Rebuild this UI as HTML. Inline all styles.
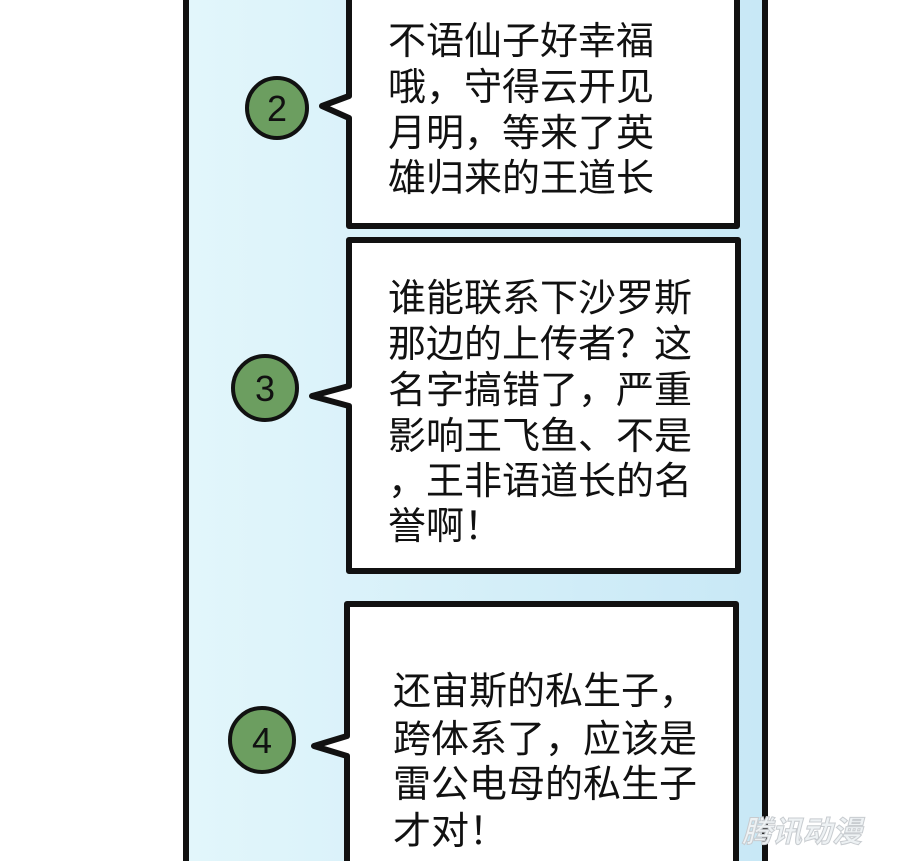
<!DOCTYPE html>
<html><head><meta charset="utf-8"><style>
html,body{margin:0;padding:0;background:#fff;}
svg text{font-family:"Liberation Sans","Noto Sans CJK SC",sans-serif;}
</style></head><body>
<svg width="900" height="861" viewBox="0 0 900 861" xmlns="http://www.w3.org/2000/svg">
<defs>
<linearGradient id="bg" x1="0" y1="0" x2="1" y2="0">
<stop offset="0" stop-color="#e2f6fb"/><stop offset="1" stop-color="#c8e8f6"/>
</linearGradient>
</defs>
<rect x="0" y="0" width="900" height="861" fill="#fff"/>
<rect x="186" y="-10" width="579" height="885" fill="url(#bg)" stroke="#111" stroke-width="6"/>
<path d="M349,-10 L737,-10 L737,226 L349,226 L349,118 L322,106 L349,96 Z" fill="#fff" stroke="#111" stroke-width="6" stroke-linejoin="round"/>
<path d="M349,240 L738,240 L738,571 L349,571 L349,406 L312,396 L349,386 Z" fill="#fff" stroke="#111" stroke-width="6" stroke-linejoin="round"/>
<path d="M347,604 L736,604 L736,875 L347,875 L347,756 L314,746 L347,736 Z" fill="#fff" stroke="#111" stroke-width="6" stroke-linejoin="round"/>
<circle cx="277" cy="108" r="30" fill="#6c9e60" stroke="#111" stroke-width="4"/>
<text x="277" y="121" font-size="36" text-anchor="middle" fill="#111">2</text>
<circle cx="265" cy="388" r="32" fill="#6c9e60" stroke="#111" stroke-width="4"/>
<text x="265" y="401" font-size="36" text-anchor="middle" fill="#111">3</text>
<circle cx="262" cy="740" r="32" fill="#6c9e60" stroke="#111" stroke-width="4"/>
<text x="262" y="753" font-size="36" text-anchor="middle" fill="#111">4</text>
<g font-size="38" fill="#111">
<text x="388" y="54">不语仙子好幸福</text>
<text x="388" y="100">哦，守得云开见</text>
<text x="388" y="146">月明，等来了英</text>
<text x="388" y="191">雄归来的王道长</text>
<text x="388" y="311">谁能联系下沙罗斯</text>
<text x="388" y="357">那边的上传者？这</text>
<text x="388" y="403">名字搞错了，严重</text>
<text x="388" y="449">影响王飞鱼、不是</text>
<text x="388" y="494">，王非语道长的名</text>
<text x="388" y="539">誉啊！</text>
<text x="393" y="704">还宙斯的私生子，</text>
<text x="393" y="752">跨体系了，应该是</text>
<text x="393" y="797">雷公电母的私生子</text>
<text x="393" y="844">才对！</text>
</g>
<text x="742" y="842" font-size="30" font-weight="bold" font-style="italic" fill="#eef2f4" stroke="#c8ccd0" stroke-width="1">腾讯动漫</text>
</svg>
</body></html>
